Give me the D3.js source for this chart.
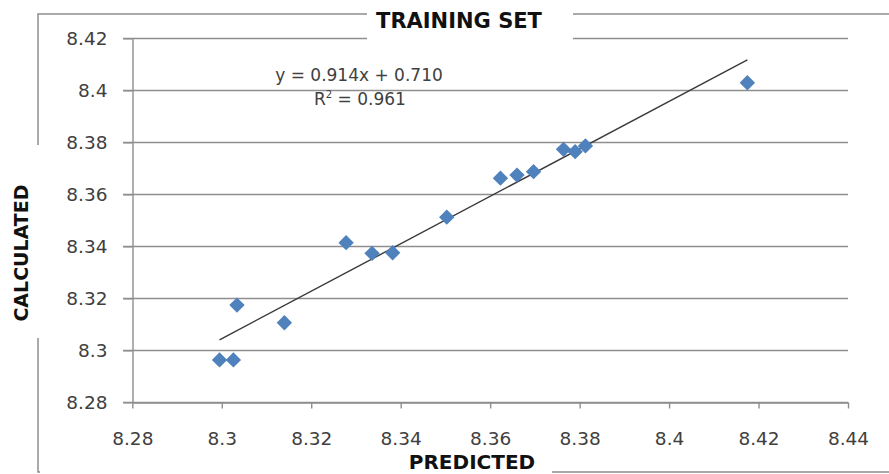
<!DOCTYPE html>
<html>
<head>
<meta charset="utf-8">
<script src="https://cdn.jsdelivr.net/npm/d3@7"></script>
<style>
  html, body { margin: 0; padding: 0; background: #fff; }
  svg { display: block; }
</style>
</head>
<body>
<svg id="chart" width="889" height="474"></svg>
<script>
// Predicted vs calculated values of the training set
const predicted  = [8.2995, 8.3026, 8.3034, 8.3140, 8.3278, 8.3336, 8.3382, 8.3503,
                    8.3623, 8.3660, 8.3697, 8.3764, 8.3790, 8.3813, 8.4175];
const calculated = [8.2963, 8.2963, 8.3174, 8.3106, 8.3414, 8.3373, 8.3375, 8.3512,
                    8.3662, 8.3674, 8.3687, 8.3773, 8.3764, 8.3786, 8.4029];

const xTicks = [8.28, 8.30, 8.32, 8.34, 8.36, 8.38, 8.40, 8.42, 8.44];
const yTicks = [8.28, 8.30, 8.32, 8.34, 8.36, 8.38, 8.40, 8.42];

const chartTitle = "TRAINING SET";
const xTitle = "PREDICTED";
const yTitle = "CALCULATED";
const equationText = "y = 0.914x + 0.710";
const r2Base = "R";
const r2Rest = " = 0.961";

const svg = d3.select("#chart");

const x = d3.scaleLinear().domain([8.28, 8.44]).range([132.3, 848]);
const y = d3.scaleLinear().domain([8.28, 8.42]).range([402.3, 38.3]);

const FONT = "'DejaVu Sans', Verdana, sans-serif";
const GRID = "#8e8e8e";
const TEXT = "#404040";

// outer frame
svg.append("rect")
  .attr("x", 38).attr("y", 14)
  .attr("width", 900).attr("height", 458)
  .attr("fill", "none")
  .attr("stroke", GRID)
  .attr("stroke-width", 1.5);

// horizontal gridlines
svg.append("g")
  .selectAll("line")
  .data(yTicks)
  .join("line")
  .attr("x1", 123).attr("x2", x(8.44))
  .attr("y1", d => Math.round(y(d)) + 0.5)
  .attr("y2", d => Math.round(y(d)) + 0.5)
  .attr("stroke", GRID)
  .attr("stroke-width", 1.4);

// white backgrounds under the titles
svg.append("rect").attr("x", 367).attr("y", 0).attr("width", 206).attr("height", 44).attr("fill", "#fff");
svg.append("rect").attr("x", 28).attr("y", 145).attr("width", 20).attr("height", 193).attr("fill", "#fff");
svg.append("rect").attr("x", 40).attr("y", 452).attr("width", 512).attr("height", 22).attr("fill", "#fff");

// y axis
const yAxis = svg.append("g")
  .attr("transform", `translate(${Math.round(x(8.28)) + 0.5},0)`)
  .call(d3.axisLeft(y).tickValues(yTicks).tickSize(9).tickSizeOuter(0).tickPadding(16)
        .tickFormat(d3.format(".2~f")));
yAxis.select(".domain").attr("stroke", GRID).attr("stroke-width", 1.4);
yAxis.selectAll(".tick line").attr("stroke", GRID).attr("stroke-width", 1.4);
yAxis.selectAll(".tick text")
  .attr("fill", TEXT)
  .style("font-family", FONT)
  .style("font-size", "18.5px");

// x axis
const xAxis = svg.append("g")
  .attr("transform", `translate(0,${Math.round(y(8.28)) + 0.5})`)
  .call(d3.axisBottom(x).tickValues(xTicks).tickSize(6).tickSizeOuter(0).tickPadding(23)
        .tickFormat(d3.format(".2~f")));
xAxis.select(".domain").attr("stroke", GRID).attr("stroke-width", 1.4);
xAxis.selectAll(".tick line").attr("stroke", GRID).attr("stroke-width", 1.4);
xAxis.selectAll(".tick text")
  .attr("fill", TEXT)
  .style("font-family", FONT)
  .style("font-size", "18.5px");

// titles
svg.append("text")
  .attr("x", 459).attr("y", 28)
  .attr("text-anchor", "middle")
  .style("font-family", FONT).style("font-weight", "bold").style("font-size", "21px")
  .attr("fill", "#111")
  .text(chartTitle);

svg.append("text")
  .attr("transform", "translate(27.5,253) rotate(-90)")
  .attr("text-anchor", "middle")
  .style("font-family", FONT).style("font-weight", "bold").style("font-size", "19px")
  .attr("fill", "#111")
  .text(yTitle);

svg.append("text")
  .attr("x", 472).attr("y", 469)
  .attr("text-anchor", "middle")
  .style("font-family", FONT).style("font-weight", "bold").style("font-size", "20px")
  .attr("fill", "#111")
  .text(xTitle);

// least-squares trendline over the data range
const mx = d3.mean(predicted), my = d3.mean(calculated);
const sxy = d3.sum(predicted, (v, i) => (v - mx) * (calculated[i] - my));
const sxx = d3.sum(predicted, v => (v - mx) * (v - mx));
const slope = sxy / sxx, intercept = my - slope * mx;
const [xmin, xmax] = d3.extent(predicted);

svg.append("line")
  .attr("x1", x(xmin)).attr("y1", y(slope * xmin + intercept))
  .attr("x2", x(xmax)).attr("y2", y(slope * xmax + intercept))
  .attr("stroke", "#3a3a3a")
  .attr("stroke-width", 1.4);

// regression equation
svg.append("text")
  .attr("x", 359).attr("y", 81)
  .attr("text-anchor", "middle")
  .style("font-family", FONT).style("font-size", "17px")
  .attr("fill", TEXT)
  .text(equationText);

const r2 = svg.append("text")
  .attr("x", 360).attr("y", 105)
  .attr("text-anchor", "middle")
  .style("font-family", FONT).style("font-size", "17px")
  .attr("fill", TEXT);
r2.append("tspan").text(r2Base);
r2.append("tspan").attr("dy", -7).style("font-size", "10px").text("2");
r2.append("tspan").attr("dy", 7).text(r2Rest);

// data points
const diamond = d3.symbol().type(d3.symbolSquare).size(118);
svg.append("g")
  .selectAll("path")
  .data(predicted.map((p, i) => [p, calculated[i]]))
  .join("path")
  .attr("d", diamond)
  .attr("transform", d => `translate(${x(d[0])},${y(d[1])}) rotate(45)`)
  .attr("fill", "#4f81bd");
</script>
</body>
</html>
